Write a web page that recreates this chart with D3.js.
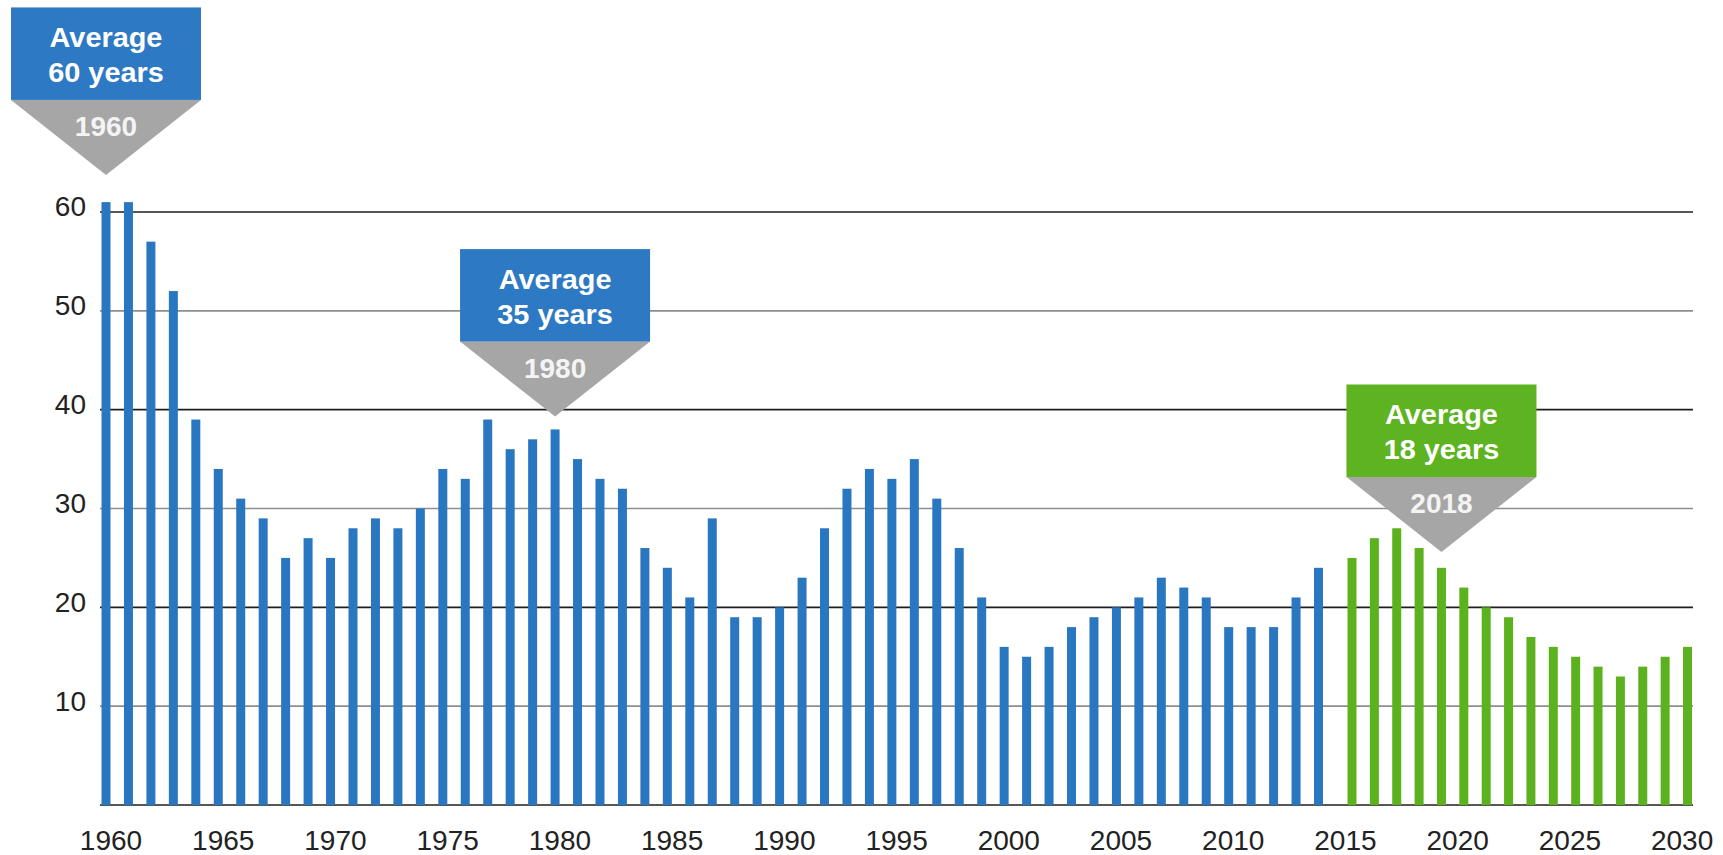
<!DOCTYPE html>
<html>
<head>
<meta charset="utf-8">
<script src="https://cdn.jsdelivr.net/npm/d3@7"></script>
<style>
  html, body { margin: 0; padding: 0; background: #ffffff; }
  svg { display: block; }
  text { font-family: "Liberation Sans", Arial, Helvetica, sans-serif; }
</style>
</head>
<body>
<svg id="chart" width="1723" height="855"></svg>
<script>
// ---- Data ----
const blueYears = d3.range(1960, 2015);
const blueValues = [61,61,57,52,39,34,31,29,25,27,
                    25,28,29,28,30,34,33,39,36,37,
                    38,35,33,32,26,24,21,29,19,19,
                    20,23,28,32,34,33,35,31,26,21,
                    16,15,16,18,19,20,21,23,22,21,
                    18,18,18,21,24];
const greenYears = d3.range(2015, 2031);
const greenValues = [25,27,28,26,24,22,20,19,17,16,15,14,13,14,15,16];

const xTickYears = [1960,1965,1970,1975,1980,1985,1990,1995,2000,2005,2010,2015,2020,2025,2030];
const yTickValues = [10,20,30,40,50,60];

const calloutLine1 = ["Average", "Average", "Average"];
const calloutLine2 = ["60 years", "35 years", "18 years"];
const calloutYear  = ["1960", "1980", "2018"];
const calloutSeries = ["blue", "blue", "green"];
const calloutAnchorYear = [1960, 1980, 2019];
const calloutPointerValue = [63.75, 39.3, 25.6];

// ---- Styles ----
const BLUE = "#2a77c1";
const GREEN = "#5cb21e";
const BOX_BLUE = "#2d79c3";
const BOX_GREEN = "#5db320";
const GRAY = "#a6a6a6";

const svg = d3.select("#chart");
svg.append("rect").attr("width", 1723).attr("height", 855).attr("fill", "#fff");

// ---- Scales ----
const y = d3.scaleLinear().domain([0, 60]).range([805, 212]);
const xLabel = d3.scaleLinear().domain([1960, 2030]).range([110.5, 1681.6]);
const xBlue = d3.scaleLinear().domain([1960, 2014]).range([106, 1318.5]);
const xGreen = d3.scaleLinear().domain([2015, 2030]).range([1352, 1687.5]);
const barW = 9;
const gridX0 = 100, gridX1 = 1693;

// ---- Gridlines ----
const gridVals = [0].concat(yTickValues);
svg.append("g").selectAll("line").data(gridVals).join("line")
  .attr("x1", gridX0).attr("x2", gridX1)
  .attr("y1", d => y(d)).attr("y2", d => y(d))
  .attr("stroke", d => (d % 20 === 0) ? "#1e1e1e" : "#8e8e8e")
  .attr("stroke-width", 1.6);

// ---- Bars ----
svg.append("g").selectAll("rect").data(blueYears.map((yr, i) => ({yr, v: blueValues[i]})))
  .join("rect")
  .attr("x", d => xBlue(d.yr) - barW / 2)
  .attr("width", barW)
  .attr("y", d => y(d.v))
  .attr("height", d => y(0) - y(d.v))
  .attr("fill", BLUE);

svg.append("g").selectAll("rect").data(greenYears.map((yr, i) => ({yr, v: greenValues[i]})))
  .join("rect")
  .attr("x", d => xGreen(d.yr) - barW / 2)
  .attr("width", barW)
  .attr("y", d => y(d.v))
  .attr("height", d => y(0) - y(d.v))
  .attr("fill", GREEN);

// ---- Axes ----
const yAxis = svg.append("g")
  .attr("transform", `translate(86,0)`)
  .call(d3.axisLeft(y).tickValues(yTickValues).tickSize(0).tickPadding(0).tickFormat(d3.format("d")));
yAxis.select(".domain").remove();
yAxis.selectAll("text")
  .attr("font-size", 28).attr("fill", "#222").attr("dy", "0.32em")
  .attr("transform", "translate(0,-5)")
  .style("font-family", '"Liberation Sans", Arial, Helvetica, sans-serif');

const xAxis = svg.append("g")
  .attr("transform", `translate(0,850)`)
  .call(d3.axisBottom(xLabel).tickValues(xTickYears).tickSize(0).tickPadding(0).tickFormat(d3.format("d")));
xAxis.select(".domain").remove();
xAxis.selectAll("text")
  .attr("font-size", 28).attr("fill", "#222").attr("dy", 0).attr("y", 0)
  .style("font-family", '"Liberation Sans", Arial, Helvetica, sans-serif');

// ---- Callouts ----
const boxW = 190, boxH = 92.5, triH = 75;
calloutYear.forEach((yrText, i) => {
  const isGreen = calloutSeries[i] === "green";
  const cx = isGreen ? xGreen(calloutAnchorYear[i]) : xBlue(calloutAnchorYear[i]);
  const tipY = y(calloutPointerValue[i]);
  const top = tipY - boxH - triH;
  const g = svg.append("g");
  g.append("path")
    .attr("d", `M${cx - boxW/2},${top + boxH} L${cx + boxW/2},${top + boxH} L${cx},${tipY} Z`)
    .attr("fill", GRAY);
  g.append("rect")
    .attr("x", cx - boxW/2).attr("y", top)
    .attr("width", boxW).attr("height", boxH)
    .attr("fill", isGreen ? BOX_GREEN : BOX_BLUE);
  g.append("text")
    .attr("transform", `translate(${cx},${top + 39.5}) scale(1.05,1)`)
    .attr("text-anchor", "middle").attr("font-size", 27.5).attr("font-weight", "bold")
    .attr("fill", "#fff").text(calloutLine1[i]);
  g.append("text")
    .attr("transform", `translate(${cx},${top + 75}) scale(1.05,1)`)
    .attr("text-anchor", "middle").attr("font-size", 27.5).attr("font-weight", "bold")
    .attr("fill", "#fff").text(calloutLine2[i]);
  g.append("text")
    .attr("transform", `translate(${cx},${top + 129}) scale(1,1)`)
    .attr("text-anchor", "middle").attr("font-size", 28).attr("font-weight", "bold")
    .attr("fill", "#f4f4f4").text(yrText);
});
</script>
</body>
</html>
